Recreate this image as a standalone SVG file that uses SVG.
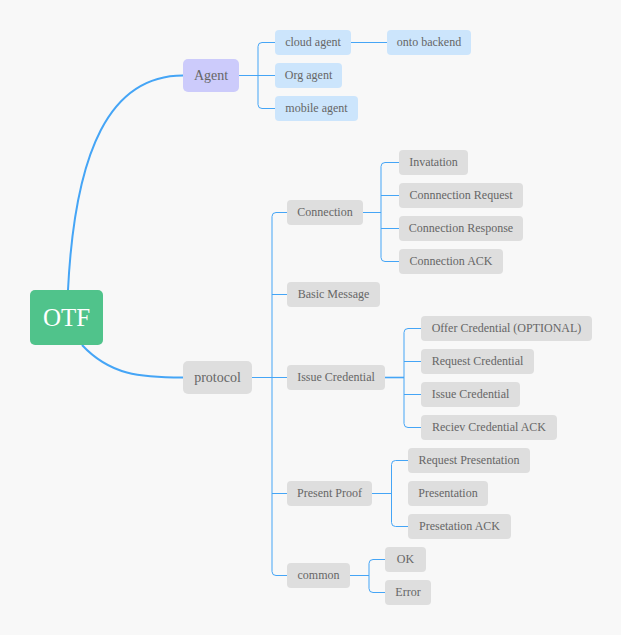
<svg xmlns="http://www.w3.org/2000/svg" width="621" height="635" viewBox="0 0 621 635" font-family="'Liberation Serif', 'DejaVu Serif', serif">
<style>
text{font-family:'Liberation Serif','DejaVu Serif',serif;fill:#666;text-anchor:middle}
.s{font-size:12px}
.g rect{fill:#dedede}
.b rect{fill:#cce5fc}
.ln{fill:none;stroke:#45a5f6;stroke-width:1}
.main{fill:none;stroke:#45a5f6;stroke-width:2}
</style>
<rect width="621" height="635" fill="#f8f8f8"/>
<g id="connectors">
<path class="main" d="M68,290 C75,150 110,75.5 183,75.5"/>
<path class="main" d="M82,345 C110,375 140,377.5 183,377.5"/>
<path class="ln" d="M239,75.5 H258 M275,42.5 H262 Q258,42.5 258,46.5 V104.5 Q258,108.5 262,108.5 H275 M258,75.5 H275 M351,42.5 H387"/>
<path class="ln" d="M287,212.5 H276 Q272,212.5 272,216.5 V571.5 Q272,575.5 276,575.5 H287 M272,294.5 H287 M252,377.5 H287 M272,493.5 H287"/>
<path class="ln" d="M363,212.5 H381 M399,162.5 H385 Q381,162.5 381,166.5 V257.5 Q381,261.5 385,261.5 H399 M381,195.5 H399 M381,228.5 H399"/>
<path class="ln" d="M421,328.5 H408 Q404,328.5 404,332.5 V423.5 Q404,427.5 408,427.5 H421 M404,361.5 H421 M404,394.5 H421"/>
<path class="ln" style="stroke-width:1.6" d="M385,377.5 H404"/>
<path class="ln" d="M372,493.5 H391.5 M408,460.5 H395.5 Q391.5,460.5 391.5,464.5 V522.5 Q391.5,526.5 395.5,526.5 H408"/>
<path class="ln" d="M350,575.5 H369 M385,559.5 H373 Q369,559.5 369,563.5 V588.5 Q369,592.5 373,592.5 H385"/>
</g>
<g id="otf"><rect x="30" y="290" width="73" height="55" rx="5" fill="#50c38b"/><text x="66.5" y="326" font-size="25" fill="#fff" style="fill:#fff">OTF</text></g>
<g id="agent"><rect x="183" y="59" width="56" height="33" rx="5" fill="#cccbfb"/><text x="211" y="80" font-size="14">Agent</text></g>
<g id="protocol" class="g"><rect x="183" y="361" width="69" height="33" rx="5"/><text x="217.5" y="382" font-size="14">protocol</text></g>
<g id="cloud-agent" class="b"><rect x="275" y="30" width="76" height="25" rx="4"/><text class="s" x="313" y="46">cloud agent</text></g>
<g id="onto-backend" class="b"><rect x="387" y="30" width="84" height="25" rx="4"/><text class="s" x="429" y="46">onto backend</text></g>
<g id="org-agent" class="b"><rect x="275" y="63" width="67" height="25" rx="4"/><text class="s" x="308.5" y="79">Org agent</text></g>
<g id="mobile-agent" class="b"><rect x="275" y="96" width="83" height="25" rx="4"/><text class="s" x="316.5" y="112">mobile agent</text></g>
<g id="connection" class="g"><rect x="287" y="200" width="76" height="25" rx="4"/><text class="s" x="325" y="216">Connection</text></g>
<g id="invatation" class="g"><rect x="399" y="150" width="69" height="25" rx="4"/><text class="s" x="433.5" y="166">Invatation</text></g>
<g id="conn-request" class="g"><rect x="399" y="183" width="124" height="25" rx="4"/><text class="s" x="461" y="199">Connnection Request</text></g>
<g id="conn-response" class="g"><rect x="399" y="216" width="124" height="25" rx="4"/><text class="s" x="461" y="232">Connection Response</text></g>
<g id="conn-ack" class="g"><rect x="399" y="249" width="104" height="25" rx="4"/><text class="s" x="451" y="265">Connection ACK</text></g>
<g id="basic-message" class="g"><rect x="287" y="282" width="93" height="25" rx="4"/><text class="s" x="333.5" y="298">Basic Message</text></g>
<g id="issue-credential" class="g"><rect x="287" y="365" width="98" height="25" rx="4"/><text class="s" x="336" y="381">Issue Credential</text></g>
<g id="offer-credential" class="g"><rect x="421" y="316" width="171" height="25" rx="4"/><text class="s" x="506.5" y="332">Offer Credential (OPTIONAL)</text></g>
<g id="request-credential" class="g"><rect x="421" y="349" width="113" height="25" rx="4"/><text class="s" x="477.5" y="365">Request Credential</text></g>
<g id="issue-credential-2" class="g"><rect x="421" y="382" width="99" height="25" rx="4"/><text class="s" x="470.5" y="398">Issue Credential</text></g>
<g id="reciev-ack" class="g"><rect x="421" y="415" width="136" height="25" rx="4"/><text class="s" x="489" y="431">Reciev Credential ACK</text></g>
<g id="present-proof" class="g"><rect x="287" y="481" width="85" height="25" rx="4"/><text class="s" x="329.5" y="497">Present Proof</text></g>
<g id="request-presentation" class="g"><rect x="408" y="448" width="122" height="25" rx="4"/><text class="s" x="469" y="464">Request Presentation</text></g>
<g id="presentation" class="g"><rect x="408" y="481" width="80" height="25" rx="4"/><text class="s" x="448" y="497">Presentation</text></g>
<g id="presetation-ack" class="g"><rect x="408" y="514" width="103" height="25" rx="4"/><text class="s" x="459.5" y="530">Presetation ACK</text></g>
<g id="common" class="g"><rect x="287" y="563" width="63" height="25" rx="4"/><text class="s" x="318.5" y="579">common</text></g>
<g id="ok" class="g"><rect x="385" y="547" width="41" height="25" rx="4"/><text class="s" x="405.5" y="563">OK</text></g>
<g id="error" class="g"><rect x="385" y="580" width="46" height="25" rx="4"/><text class="s" x="408" y="596">Error</text></g>
</svg>
